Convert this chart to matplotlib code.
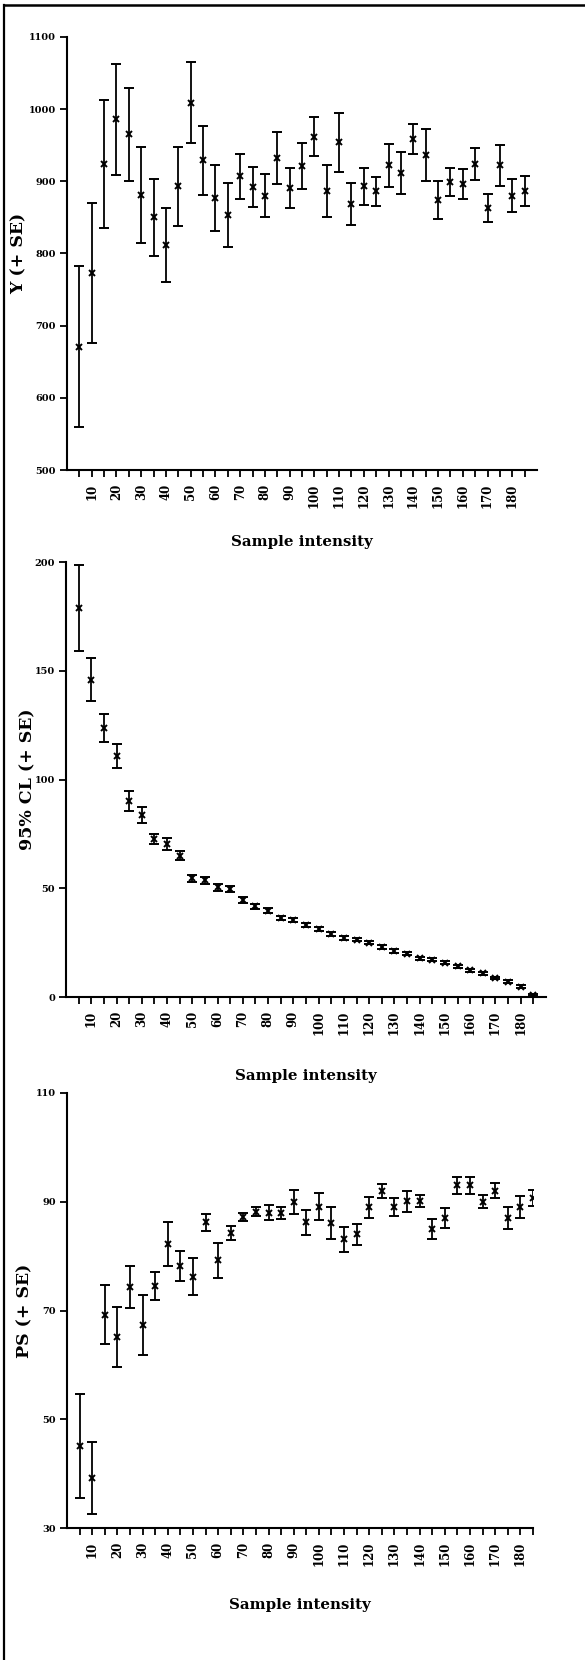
import matplotlib
matplotlib.use("Agg")
import matplotlib.pyplot as plt
from matplotlib.lines import Line2D

plt.rcParams["font.family"] = ["DejaVu Serif"]
plt.rcParams["font.weight"] = "bold"

# sample intensities on the x axis (every 5), labelled every 10
sample_intensity = list(range(5, 190, 5))
labelled = list(range(10, 190, 10))

# panel 1: Y (+ SE)
y_mean = [671, 773, 924, 986, 965, 881, 850, 812, 893, 1009, 929, 877, 853,
          907, 892, 880, 932, 891, 921, 962, 887, 954, 869, 893, 886, 922,
          911, 959, 936, 874, 899, 896, 924, 863, 922, 880, 887]
y_se = [111, 97, 89, 77, 65, 67, 53, 51, 55, 56, 48, 46, 44, 31, 28, 30, 36,
        28, 32, 27, 36, 41, 29, 26, 20, 30, 29, 21, 36, 26, 19, 21, 22, 20,
        29, 23, 21]

# panel 2: 95% CL (+ SE)
cl_mean = [178.8, 145.8, 123.8, 110.9, 90.2, 83.8, 72.6, 70.4, 64.9, 54.5,
           53.6, 50.5, 49.6, 44.5, 41.7, 39.6, 36.4, 35.5, 32.9, 31.1, 29.0,
           27.3, 26.4, 25.0, 22.9, 21.1, 19.9, 17.9, 17.1, 15.8, 14.1, 12.3,
           10.9, 8.8, 7.0, 4.7, 0.9]
cl_se = [19.9, 9.9, 6.4, 5.5, 4.5, 3.6, 2.2, 2.7, 2.0, 1.8, 1.6, 1.6, 1.5,
         1.3, 1.2, 1.1, 1.0, 1.0, 0.9, 0.9, 0.9, 0.9, 0.8, 0.8, 0.8, 0.8,
         0.8, 0.7, 0.7, 0.7, 0.7, 0.7, 0.7, 0.6, 0.6, 0.6, 0.6]

# panel 3: PS (+ SE)
ps_mean = [45.1, 39.2, 69.2, 65.2, 74.3, 67.3, 74.5, 82.2, 78.2, 76.2, 86.2,
           79.2, 84.2, 87.2, 88.2, 88.0, 88.0, 90.0, 86.2, 89.1, 86.1, 83.1,
           84.0, 89.0, 92.0, 89.0, 90.1, 90.1, 85.0, 87.0, 93.0, 93.0, 90.0,
           92.0, 87.0, 89.0, 90.7]
ps_se = [9.5, 6.7, 5.4, 5.5, 3.9, 5.5, 2.6, 4.1, 2.8, 3.4, 1.5, 3.3, 1.3, 0.8,
         0.9, 1.4, 1.1, 2.2, 2.3, 2.5, 2.9, 2.3, 1.9, 1.9, 1.3, 1.6, 1.9, 1.1,
         1.8, 1.8, 1.6, 1.6, 1.2, 1.4, 2.0, 2.0, 1.4]

W, H = 585, 1660
fig = plt.figure(figsize=(W / 100, H / 100), dpi=100)


def px_axes(left, top, right, bottom):
    return fig.add_axes([left / W, 1 - bottom / H,
                         (right - left) / W, (bottom - top) / H])


def draw_panel(ax, mean, se, xmax, yticks, ylabel, ylabel_x, xlabel_drop):
    ax.errorbar(sample_intensity, mean, yerr=se, fmt="x", color="black",
                ms=5, mew=1.4, elinewidth=1.3, capsize=3.5, capthick=1.4)
    ax.set_xlim(0, xmax)
    ax.set_ylim(yticks[0], yticks[-1])
    ax.set_xticks(sample_intensity)
    ax.set_xticklabels([str(v) if v in labelled else "" for v in sample_intensity],
                       rotation=90)
    ax.set_yticks(yticks)
    ax.tick_params(axis="x", length=5, width=1.3, pad=5, labelsize=8.5)
    ax.tick_params(axis="y", length=5, width=1.3, pad=3, labelsize=7)
    for side in ("top", "right"):
        ax.spines[side].set_visible(False)
    for side in ("left", "bottom"):
        ax.spines[side].set_linewidth(1.5)
    ax.set_xlabel("Sample intensity", fontsize=10.8, fontweight="bold")
    ax.xaxis.set_label_coords(0.5, xlabel_drop)
    bbox = ax.get_position()
    fig.text(ylabel_x / W, bbox.y0 + bbox.height / 2, ylabel, rotation=90,
             ha="center", va="center", fontsize=12.5, fontweight="bold")


ax1 = px_axes(67, 37, 537, 470)
draw_panel(ax1, y_mean, y_se, 190, [500, 600, 700, 800, 900, 1000, 1100],
           "Y (+ SE)", 19, -0.150)

ax2 = px_axes(66, 562, 546, 997)
draw_panel(ax2, cl_mean, cl_se, 190, [0, 50, 100, 150, 200],
           "95% CL (+ SE)", 28, -0.165)

ax3 = px_axes(67, 1093, 533, 1528)
draw_panel(ax3, ps_mean, ps_se, 185, [30, 50, 70, 90, 110],
           "PS (+ SE)", 25, -0.160)

# outer frame of the scanned page
fig.add_artist(Line2D([4 / W, 4 / W], [0, 1 - 5 / H], color="black", lw=1.6))
fig.add_artist(Line2D([4 / W, 1], [1 - 5 / H, 1 - 5 / H], color="black", lw=1.8))

fig.savefig("out.png", dpi=100)
